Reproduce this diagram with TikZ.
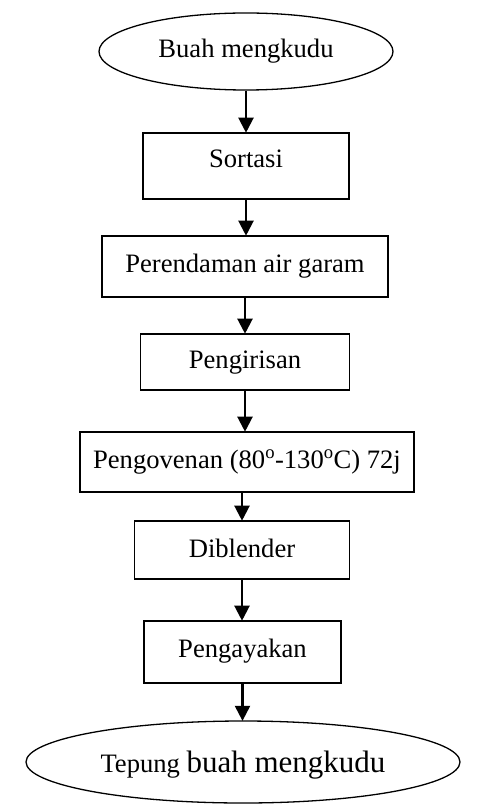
\documentclass[tikz,border=0pt]{standalone}
\usepackage{fontspec}
\setmainfont{Liberation Serif}
\usetikzlibrary{shapes.geometric,arrows.meta}
\begin{document}
\begin{tikzpicture}[x=1pt,y=-1pt,
  base/.style={font=\fontsize{26.6}{30}\selectfont, inner sep=0pt, text height=12pt, text depth=0pt},
  stepbox/.style={base, draw, line width=1.6pt, rectangle},
  term/.style={base, draw, line width=1.3pt, ellipse},
  arr/.style={line width=2.2pt, -{Triangle[length=15pt,width=15pt]}, shorten >=-0.5pt}
]
\useasboundingbox (0,0) rectangle (487,810);
\node[term, minimum width=294pt, minimum height=77pt] (start) at (246,51.5) {Buah mengkudu};
\node[stepbox, minimum width=206pt, minimum height=66pt, text height=4pt] (sort) at (246,166) {Sortasi};
\node[stepbox, minimum width=286pt, minimum height=61pt] (rend) at (245,266.5) {Perendaman air garam};
\node[stepbox, minimum width=209pt, minimum height=56pt] (iris) at (245,362) {Pengirisan};
\node[stepbox, minimum width=334pt, minimum height=60pt] (oven) at (247,462) {Pengovenan (80\textsuperscript{o}-130\textsuperscript{o}C) 72j};
\node[stepbox, minimum width=215pt, minimum height=58pt, text height=14pt] (blend) at (242,550) {Diblender};
\node[stepbox, minimum width=197pt, minimum height=62pt, text height=10pt] (ayak) at (242.5,652) {Pengayakan};
\node[term, minimum width=434pt, minimum height=82pt, text height=20pt] (end) at (243,762) {Tepung {\fontsize{31}{34}\selectfont buah mengkudu}};
\draw[arr] (start.south) -- (start.south |- sort.north);
\draw[arr] (sort.south) -- (sort.south |- rend.north);
\draw[arr] (rend.south -| iris.north) -- (iris.north);
\draw[arr] (iris.south) -- (iris.south |- oven.north);
\draw[arr] (oven.south -| blend.north) -- (blend.north);
\draw[arr] (blend.south) -- (blend.south |- ayak.north);
\draw[arr] (ayak.south) -- (ayak.south |- end.north);
\end{tikzpicture}
\end{document}
